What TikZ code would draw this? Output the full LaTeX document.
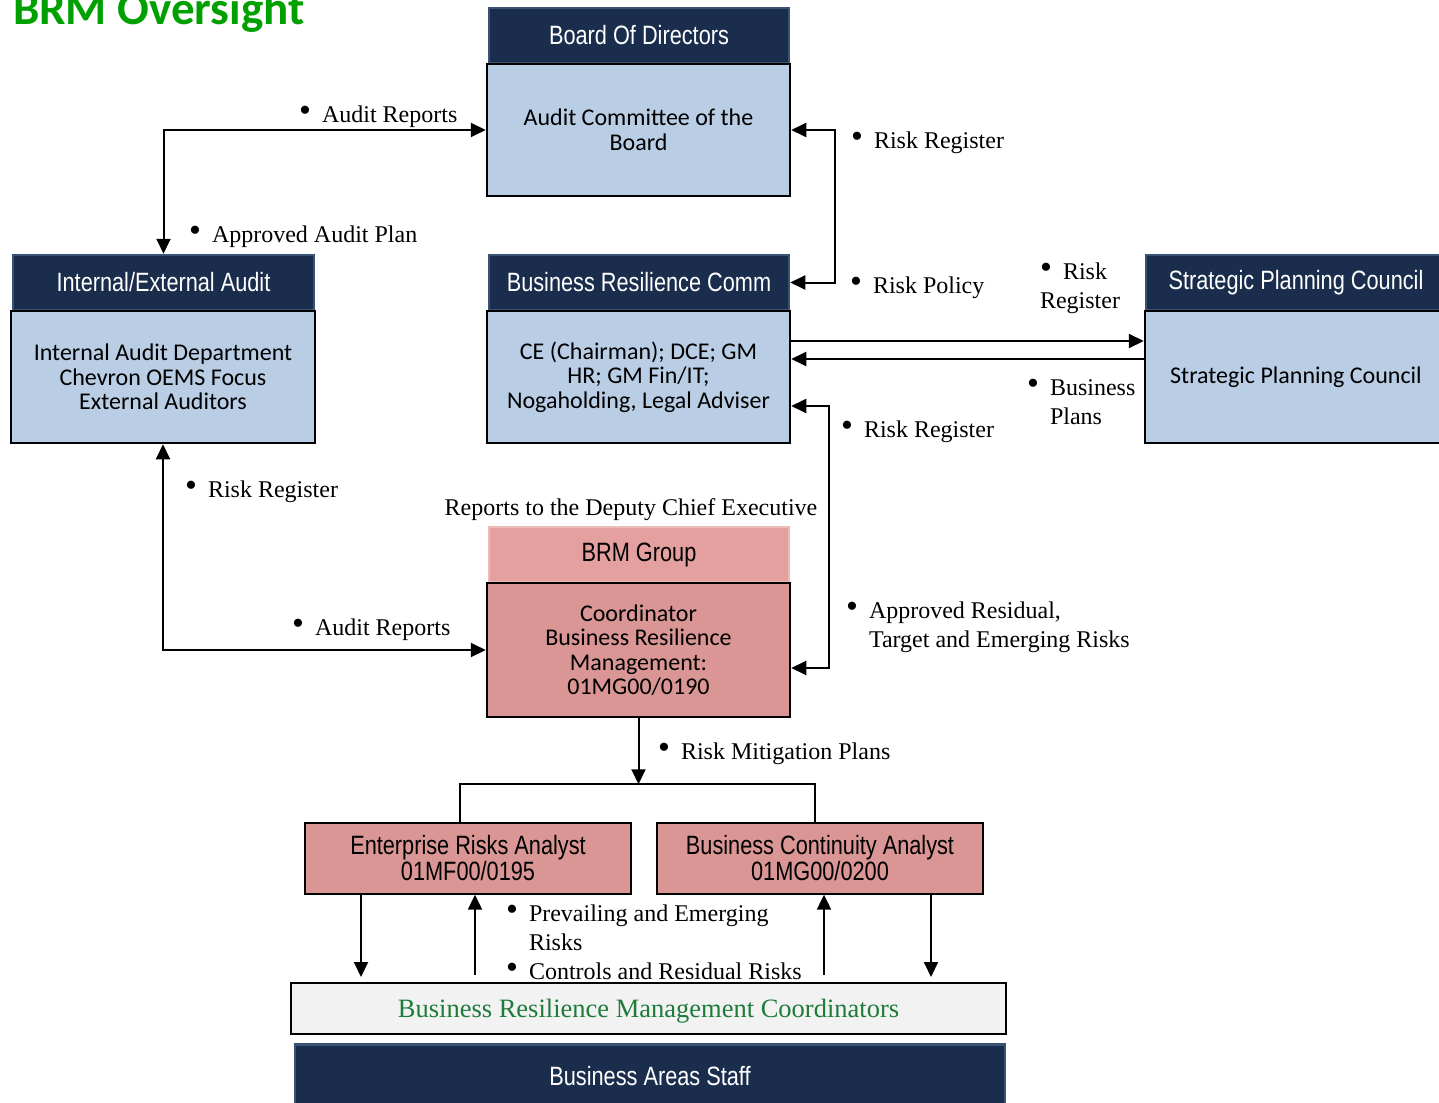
\documentclass[tikz,border=0pt]{standalone}
\usepackage{fontspec}
\setmainfont{Liberation Serif}
\newfontfamily\calfont{Carlito}
\newfontfamily\narfont[FakeStretch=0.82]{Liberation Sans}
\usetikzlibrary{arrows.meta}

\definecolor{navy}{HTML}{1B2D4D}
\definecolor{navyedge}{HTML}{3A5273}
\definecolor{paleblue}{HTML}{B9CDE5}
\definecolor{rosehead}{HTML}{E4A09F}
\definecolor{roseedge}{HTML}{EDBAB9}
\definecolor{rosebody}{HTML}{D99694}
\definecolor{coordgray}{HTML}{F2F2F2}
\definecolor{coordgreen}{HTML}{1E7B3A}
\definecolor{titlegreen}{HTML}{00A000}

\tikzset{
  hdr/.style={fill=navy, draw=navyedge, line width=2.5pt, inner sep=0pt,
    text=white, font=\narfont\fontsize{26.5}{26}\selectfont},
  pinkhdr/.style={hdr, fill=rosehead, draw=roseedge, text=black},
  bodybox/.style={fill=paleblue, draw=black, line width=2.5pt, inner sep=0pt,
    align=center, font=\calfont\fontsize{24}{24.5}\selectfont},
  pinkbody/.style={bodybox, fill=rosebody},
  analyst/.style={fill=rosebody, draw=black, line width=1.3pt, inner sep=0pt,
    align=center, minimum width=326pt, minimum height=71pt,
    font=\narfont\fontsize{26.5}{26}\selectfont},
  lbl/.style={anchor=west, inner sep=0pt, yshift=-3pt, align=left,
    font=\fontsize{24}{29}\selectfont}
}
\newcommand{\bul}{\makebox[23pt][l]{\raisebox{1pt}{\fontsize{34}{29}\selectfont\textbullet}}}
\newcommand{\nobul}{\hspace*{23pt}}

\begin{document}
\begin{tikzpicture}[x=1pt, y=-1pt, line width=2pt, >={Triangle[length=15pt,width=14pt]}]
  \useasboundingbox (0,0) rectangle (1439,1102);

  \node[anchor=base west, inner sep=0pt, text=titlegreen,
    font=\calfont\bfseries\fontsize{47}{47}\selectfont] (title) at (12,25) {BRM Oversight};

  % top: board
  \node[hdr, minimum width=300pt, minimum height=55pt] (bod) at (639,35.5) {Board Of Directors};
  \node[bodybox, minimum width=303pt, minimum height=132pt] (acb) at (638.5,130)
    {Audit Committee of the\\Board};

  % middle row
  \node[hdr, minimum width=301pt, minimum height=55pt] (iea) at (163.5,282.5) {Internal/External Audit};
  \node[bodybox, minimum width=304pt, minimum height=132pt] (iad) at (163,377)
    {Internal Audit Department\\Chevron OEMS Focus\\External Auditors};

  \node[hdr, minimum width=300pt, minimum height=55pt] (brc) at (639,282.5) {Business Resilience Comm};
  \node[bodybox, minimum width=303pt, minimum height=132pt] (brcb) at (638.5,377)
    {CE (Chairman); DCE; GM\\HR; GM Fin/IT;\\Nogaholding, Legal Adviser};

  \node[hdr, minimum width=300pt, minimum height=55pt] (spc) at (1296,282.5) {Strategic Planning Council};
  \node[bodybox, minimum width=302pt, minimum height=132pt] (spcb) at (1296,377)
    {Strategic Planning Council};

  % BRM group
  \node[pinkhdr, minimum width=300pt, minimum height=55pt] (brm) at (639,554.5) {BRM Group};
  \node[pinkbody, minimum width=303pt, minimum height=134pt] (brmb) at (638.5,650)
    {Coordinator\\Business Resilience\\Management:\\01MG00/0190};

  % analysts
  \node[analyst] (era) at (468,858.5) {Enterprise Risks Analyst\\01MF00/0195};
  \node[analyst] (bca) at (820,858.5) {Business Continuity Analyst\\01MG00/0200};

  % bottom
  \node[fill=coordgray, draw=black, line width=2pt, minimum width=715pt, minimum height=51pt,
    text=coordgreen, font=\fontsize{26.5}{26}\selectfont] (coord) at (648.5,1008.5)
    {\raisebox{-8.5pt}[0pt][0pt]{Business Resilience Management Coordinators}};
  \node[hdr, anchor=north, minimum width=710pt, minimum height=64pt] (staff) at (650,1043)
    {Business Areas Staff};

  % connectors
  \draw[<->] (iea.north) |- (acb.west);
  \draw[<->] (acb.east) -- ++(44,0) |- (brc.east);
  \draw[->] ([yshift=36pt]brcb.east) -- ([yshift=36pt]spcb.west);
  \draw[->] ([yshift=18pt]spcb.west) -- ([yshift=18pt]brcb.east);
  \draw[<->] ([yshift=-29pt]brcb.east) -- ++(38,0) |- ([yshift=-18pt]brmb.east);
  \draw[<->] (iad.south) |- (brmb.west);

  \coordinate (split) at ([yshift=-66pt]brmb.south);
  \draw[->] (brmb.south) -- (split);
  \draw ([xshift=-8pt]era.north) |- (split) -| ([xshift=-5pt]bca.north);

  \coordinate (c1) at ([xshift=-287.5pt,yshift=5pt]coord.north);
  \coordinate (c2) at ([xshift=-173.5pt,yshift=7pt]coord.north);
  \coordinate (c3) at ([xshift=175.5pt,yshift=7pt]coord.north);
  \coordinate (c4) at ([xshift=282.5pt,yshift=5pt]coord.north);
  \draw[->] (era.south -| c1) -- (c1);
  \draw[->] (c2) -- (era.south -| c2);
  \draw[->] (c3) -- (bca.south -| c3);
  \draw[->] (bca.south -| c4) -- (c4);

  % labels
  \node[lbl] (l1) at (298,114) {\bul Audit Reports};
  \node[lbl] (l2) at (188,234) {\bul Approved Audit Plan};
  \node[lbl] (l3) at (850,140) {\bul Risk Register};
  \node[lbl] (l4) at (849,285) {\bul Risk Policy};
  \node[lbl] (l5) at (1039,285) {\bul Risk\\Register};
  \node[lbl] (l6) at (1026,399) {\bul Business\\\nobul Plans};
  \node[lbl] (l7) at (840,429) {\bul Risk Register};
  \node[lbl] (l8) at (845,624) {\bul Approved Residual,\\\nobul Target and Emerging Risks};
  \node[lbl] (l9) at (184,489) {\bul Risk Register};
  \node[lbl] (l10) at (291,627) {\bul Audit Reports};
  \node[inner sep=0pt, yshift=-3pt, font=\fontsize{24}{29}\selectfont] (l11) at (631,507)
    {Reports to the Deputy Chief Executive};
  \node[lbl] (l12) at (657,751) {\bul Risk Mitigation Plans};
  \node[lbl] (l13) at (505,924.5) {\bul Prevailing and Emerging\\\nobul Risks};
  \node[lbl] (l14) at (505,968) {\bul Controls and Residual Risks};
\end{tikzpicture}
\end{document}
